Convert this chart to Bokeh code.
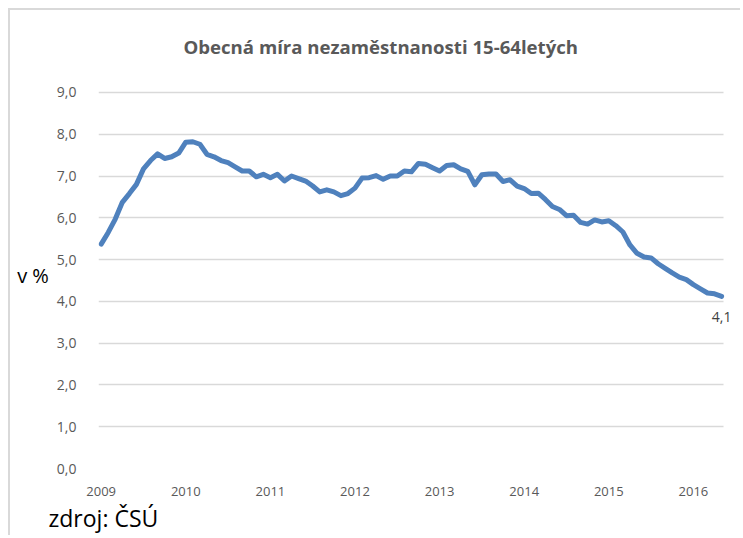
from bokeh.plotting import figure
from bokeh.models import FixedTicker, Label, Range1d, Title
from bokeh.embed import file_html
from bokeh.resources import INLINE

# ---- data (monthly, Jan 2009 - May 2016) ----
title_text = "Obecná míra nezaměstnanosti 15-64letých"
years = ["2009", "2010", "2011", "2012", "2013", "2014", "2015", "2016"]
rate = [
    5.37, 5.65, 5.97, 6.37, 6.58, 6.80, 7.17, 7.37, 7.53, 7.42, 7.46, 7.55,  # 2009
    7.81, 7.82, 7.76, 7.52, 7.46, 7.37, 7.32, 7.22, 7.12, 7.12, 6.98, 7.04,  # 2010
    6.96, 7.04, 6.88, 7.00, 6.94, 6.88, 6.76, 6.62, 6.67, 6.62, 6.53, 6.58,  # 2011
    6.71, 6.95, 6.96, 7.01, 6.92, 7.00, 7.00, 7.12, 7.10, 7.30, 7.28, 7.20,  # 2012
    7.12, 7.25, 7.27, 7.17, 7.11, 6.79, 7.03, 7.05, 7.05, 6.87, 6.91, 6.76,  # 2013
    6.70, 6.58, 6.59, 6.44, 6.27, 6.20, 6.05, 6.06, 5.89, 5.85, 5.95, 5.90,  # 2014
    5.93, 5.81, 5.66, 5.35, 5.15, 5.06, 5.04, 4.90, 4.79, 4.68, 4.58, 4.52,  # 2015
    4.40, 4.30, 4.20, 4.18, 4.12,                                            # 2016
]
y_ticks = list(range(0, 10))
y_label = "v %"
source_text = "zdroj: ČSÚ"

month_index = list(range(len(rate)))
year_ticks = [12 * i for i in range(len(years))]

FONT = "Open Sans"
GREY = "#595959"

# plot-area extent (grid lines span this x-extent; frame is a bit wider for the end label)
X_LO, X_HI = -0.38, 88.27

p = figure(
    width=732, height=527,
    output_backend="svg", toolbar_location=None,
    x_range=Range1d(X_LO, 90.68), y_range=Range1d(0, 9.262),
    min_border_left=88, min_border_right=2,
    min_border_top=70, min_border_bottom=68,
    styles={"border-top": "2px solid #d9d9d9", "border-left": "2px solid #d9d9d9"},
)
p.margin = (8, 0, 0, 8)
p.outline_line_color = None
p.background_fill_color = "white"
p.border_fill_color = "white"

# title
p.title.text = title_text
p.title.text_font = FONT
p.title.text_font_size = "18.6px"
p.title.text_font_style = "bold"
p.title.text_color = GREY
p.title.align = "left"
p.title.offset = 85
p.title.vertical_align = "middle"
p.title.standoff = 44

# grid
p.xgrid.grid_line_color = None
yg = p.ygrid[0]
yg.grid_line_color = "#d9d9d9"
yg.grid_line_width = 1.5
if "cross_bounds" in yg.properties():
    yg.cross_bounds = (X_LO, X_HI)
else:
    yg.grid_line_color = None
    p.segment(x0=X_LO, x1=X_HI, y0=y_ticks, y1=y_ticks,
              line_color="#d9d9d9", line_width=1.5)

# axes
for ax in (p.xaxis[0], p.yaxis[0]):
    ax.axis_line_color = None
    ax.major_tick_line_color = None
    ax.minor_tick_line_color = None
    ax.major_label_text_font = FONT
    ax.major_label_text_color = GREY

p.xaxis.ticker = FixedTicker(ticks=year_ticks)
p.xaxis.major_label_overrides = {t: y for t, y in zip(year_ticks, years)}
p.xaxis.major_label_standoff = 12
p.xaxis.major_label_text_font_size = "13px"

p.yaxis.ticker = FixedTicker(ticks=y_ticks)
p.yaxis.major_label_overrides = {t: f"{t},0" for t in y_ticks}
p.yaxis.major_label_standoff = 16
p.yaxis.major_label_text_font_size = "14px"
p.yaxis.axis_label = y_label
p.yaxis.axis_label_orientation = "horizontal"
p.yaxis.axis_label_text_font = FONT
p.yaxis.axis_label_text_font_style = "normal"
p.yaxis.axis_label_text_font_size = "20px"
p.yaxis.axis_label_text_color = "black"
p.yaxis.axis_label_standoff = 5

# line
p.line(month_index, rate, line_color="#4f81bd", line_width=5,
       line_join="round", line_cap="round")

# end label
last_text = f"{rate[-1]:.1f}".replace(".", ",")
p.add_layout(Label(x=month_index[-1], y=rate[-1], text=last_text, y_offset=-21,
                   text_align="center", text_baseline="middle",
                   text_font=FONT, text_font_size="14px", text_color="#404040"))

# source note
p.add_layout(Title(text=source_text, align="left", offset=-50, vertical_align="middle",
                   standoff=5, text_font=FONT, text_font_size="23px",
                   text_font_style="normal", text_color="black"), "below")

open("out.html", "w").write(file_html(p, INLINE))
